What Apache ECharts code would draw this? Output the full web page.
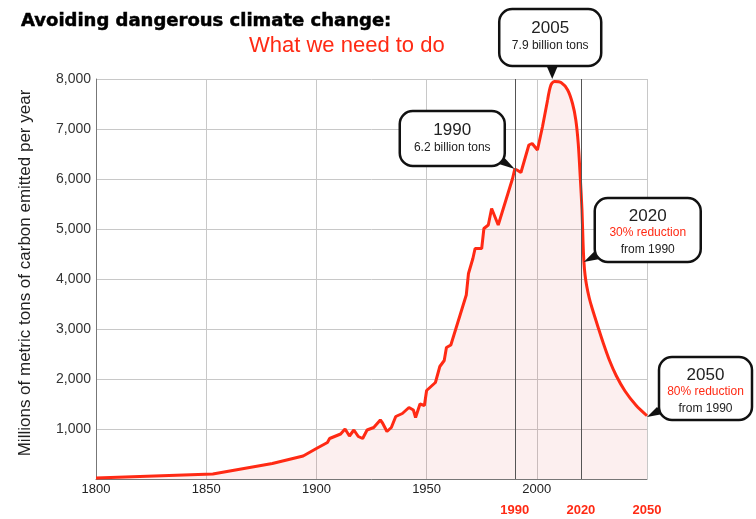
<!DOCTYPE html>
<html>
<head>
<meta charset="utf-8">
<script src="https://cdn.jsdelivr.net/npm/echarts@6/dist/echarts.min.js"></script>
<style>
  html, body { margin: 0; padding: 0; background: #fff; }
  #chart { width: 756px; height: 519px; }
</style>
</head>
<body>
<div id="chart"></div>
<script>
// historical emissions (million metric tons of carbon / year)
const histYears = [1800, 1853, 1880, 1894, 1900, 1905, 1906, 1911, 1913, 1915, 1917, 1919, 1921, 1923, 1926, 1929, 1930, 1932, 1934, 1936, 1939, 1942, 1944, 1945, 1947, 1949, 1950, 1954, 1956, 1958, 1959, 1961, 1968, 1969, 1971, 1972, 1975, 1976, 1978, 1979.5, 1982.5, 1989, 1990, 1991, 1992.8, 1996.4, 1997.9, 2000.3, 2002.6, 2004.9];
const histValues = [20, 100, 310, 460, 610, 730, 810, 900, 1000, 860, 980, 850, 810, 980, 1030, 1180, 1120, 950, 1030, 1250, 1310, 1430, 1380, 1230, 1500, 1470, 1770, 1930, 2250, 2370, 2630, 2680, 3680, 4110, 4410, 4610, 4610, 5010, 5080, 5410, 5080, 6010, 6200, 6180, 6130, 6680, 6710, 6580, 7050, 7580];

// needed path
const projYears = [2004.9, 2006.4, 2008, 2011, 2014, 2016.2, 2017.7, 2018.8, 2019.7, 2020.5, 2021, 2021.4, 2021.9, 2022.6, 2023.8, 2025, 2028, 2030, 2033, 2036, 2040, 2045, 2050];
const projValues = [7580, 7880, 7950, 7930, 7780, 7510, 7180, 6710, 6050, 5380, 4710, 4330, 4080, 3870, 3620, 3430, 3010, 2740, 2370, 2070, 1760, 1475, 1265];

const markYears = [1990, 2020];
const redTickYears = [1990, 2020, 2050];

// callouts: anchor in data units, box offset from the tip in pixels
const callouts = [
  { anchor: [2007, 8000], box: [-53, -70, 102, 57], ptr: [[-6, -14], [6, -14]], lines: ['2005', '7.9 billion tons'] },
  { anchor: [1990, 6200], box: [-115, -58, 105, 55], ptr: [[-19, -6], [-11, -12]], lines: ['1990', '6.2 billion tons'] },
  { anchor: [2021.3, 4340], box: [11, -64, 106, 64], ptr: [[10, -10], [16, -3]], lines: ['2020', '30% reduction', 'from 1990'] },
  { anchor: [2050, 1240], box: [12, -60, 93, 63], ptr: [[10, -10], [16, -3]], lines: ['2050', '80% reduction', 'from 1990'] }
];

const RED = '#ff2a14';
const FONT = '"Liberation Sans", Arial, sans-serif';

const zip = (xs, ys) => xs.map((x, i) => [x, ys[i]]);

const chart = echarts.init(document.getElementById('chart'), null, { renderer: 'canvas' });

chart.setOption({
  animation: false,
  backgroundColor: '#fff',
  title: [
    {
      text: 'Avoiding dangerous climate change:',
      left: 16, top: 7,
      textStyle: {
        fontFamily: '"DejaVu Sans", sans-serif', fontWeight: 900, fontSize: 18, color: '#000',
        textBorderColor: '#000', textBorderWidth: 0.5
      }
    },
    {
      text: 'What we need to do',
      left: 244, top: 30,
      textStyle: { fontFamily: FONT, fontWeight: 'normal', fontSize: 22, color: RED }
    }
  ],
  grid: { left: 96, right: 109, top: 79, bottom: 40 },
  xAxis: [
    {
      type: 'value', min: 1800, max: 2050, interval: 50,
      axisLine: { lineStyle: { color: '#777' } },
      axisTick: { show: false },
      axisLabel: {
        margin: 4, fontSize: 13, fontFamily: FONT, color: '#222',
        formatter: v => (v === 2050 ? '' : String(v))
      },
      splitLine: { lineStyle: { color: '#c8c8c8' } }
    },
    {
      type: 'value', min: 1800, max: 2050, interval: 10,
      position: 'bottom', offset: 21,
      axisLine: { show: false }, axisTick: { show: false }, splitLine: { show: false },
      axisLabel: {
        margin: 4, fontSize: 13, fontWeight: 'bold', fontFamily: FONT, color: RED,
        formatter: v => (redTickYears.includes(v) ? String(v) : '')
      }
    }
  ],
  yAxis: {
    type: 'value', min: 0, max: 8000, interval: 1000,
    name: 'Millions of metric tons of carbon emitted per year',
    nameLocation: 'middle', nameGap: 62, nameRotate: 90,
    nameTextStyle: { fontSize: 17, fontFamily: FONT, color: '#222', padding: [0, 0, 0, 12] },
    axisLine: { show: true, lineStyle: { color: '#777' } },
    axisTick: { show: false },
    axisLabel: {
      margin: 5, fontSize: 14, fontFamily: FONT, color: '#333',
      formatter: v => (v === 0 ? '' : v.toLocaleString('en-US'))
    },
    splitLine: { lineStyle: { color: '#c8c8c8' } }
  },
  series: [
    {
      type: 'line', name: 'history',
      data: zip(histYears, histValues),
      showSymbol: false, smooth: false,
      lineStyle: { color: RED, width: 3 },
      areaStyle: { color: 'rgba(225, 70, 70, 0.12)' },
      markLine: {
        silent: true, symbol: 'none', label: { show: false },
        lineStyle: { color: '#555', width: 1, type: 'solid' },
        data: markYears.map(y => ({ xAxis: y }))
      },
      z: 3
    },
    {
      type: 'line', name: 'needed',
      data: zip(projYears, projValues),
      showSymbol: false, smooth: 0.3,
      lineStyle: { color: RED, width: 3 },
      areaStyle: { color: 'rgba(225, 70, 70, 0.12)' },
      z: 3
    }
  ]
});

// callout boxes placed from data anchors
const graphics = [];
callouts.forEach(c => {
  const [tx, ty] = chart.convertToPixel({ xAxisIndex: 0, yAxisIndex: 0 }, c.anchor);
  const [dx, dy, w, h] = c.box;
  const bx = tx + dx, by = ty + dy;
  graphics.push({
    type: 'polygon', z: 100,
    shape: { points: [[tx, ty], [tx + c.ptr[0][0], ty + c.ptr[0][1]], [tx + c.ptr[1][0], ty + c.ptr[1][1]]] },
    style: { fill: '#111' }
  });
  graphics.push({
    type: 'rect', z: 101,
    shape: { x: bx, y: by, width: w, height: h, r: 13 },
    style: { fill: '#fff', stroke: '#111', lineWidth: 2.5 }
  });
  const three = c.lines.length === 3;
  c.lines.forEach((txt, i) => {
    const first = i === 0;
    graphics.push({
      type: 'text', z: 102,
      style: {
        text: txt,
        x: bx + w / 2,
        y: by + (three ? 18 + i * 17 : 19 + i * 18),
        align: 'center', verticalAlign: 'middle',
        fontFamily: FONT,
        fontSize: first ? 17 : 12,
        fill: first ? '#222' : (three && i === 1 ? RED : '#222')
      }
    });
  });
});
chart.setOption({ graphic: graphics });
</script>
</body>
</html>
